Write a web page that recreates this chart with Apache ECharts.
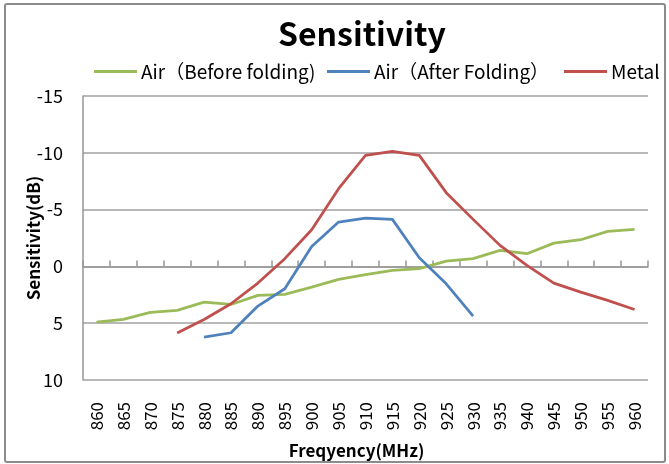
<!DOCTYPE html>
<html>
<head>
  <meta charset="UTF-8" />
  <title>Sensitivity</title>
  <style>
    body { margin: 0; background: #fff; }
    #chart { position: absolute; left: 0; top: 0; width: 669px; height: 464px; }
    #frame {
      position: absolute;
      left: 4px; top: 3px;
      width: 658px; height: 456px;
      border: 2px solid #8c8c8c;
      border-radius: 3px;
      pointer-events: none;
    }
  </style>
  <script src="https://cdn.jsdelivr.net/npm/echarts@6/dist/echarts.min.js"></script>
</head>
<body>
  <div id="chart"></div>
  <div id="frame"></div>

  <script>
    // frequencies (MHz)
    var freqs = ['860', '865', '870', '875', '880', '885', '890', '895', '900', '905', '910',
                 '915', '920', '925', '930', '935', '940', '945', '950', '955', '960'];

    // sensitivity (dB)
    var airBefore = [4.9, 4.67, 4.05, 3.87, 3.14, 3.35, 2.55, 2.46, 1.82, 1.14, 0.73,
                     0.35, 0.2, -0.47, -0.68, -1.41, -1.12, -2.05, -2.35, -3.08, -3.26];
    var airAfter = [null, null, null, null, 6.22, 5.84, 3.49, 1.97, -1.76, -3.9, -4.25,
                    -4.14, -0.76, 1.53, 4.37, null, null, null, null, null, null];
    var metal = [null, null, null, 5.87, 4.67, 3.29, 1.47, -0.68, -3.23, -6.84, -9.77,
                 -10.12, -9.77, -6.49, -4.14, -1.85, -0.09, 1.47, 2.26, 2.99, 3.79];

    var seriesNames = ['Air（Before folding)', 'Air（After Folding）', 'Metal'];
    var seriesColors = ['#9bbb59', '#4f81bd', '#c0504d'];

    var yTicks = { min: -15, max: 10, step: 5 };

    var font = '"Noto Sans CJK SC", "Noto Sans", sans-serif';

    var chart = echarts.init(document.getElementById('chart'));

    function line(name, data, color) {
      return {
        name: name,
        type: 'line',
        xAxisIndex: 0,
        data: data,
        symbol: 'none',
        connectNulls: false,
        lineStyle: { color: color, width: 2.75 },
        itemStyle: { color: color }
      };
    }

    // one legend per entry so each can sit where the original has it
    var legendLefts = [94, 327, 564];
    var legends = seriesNames.map(function (n, i) {
      return {
        top: 62,
        left: legendLefts[i],
        padding: 0,
        itemWidth: 43,
        itemHeight: 3,
        itemGap: 0,
        icon: 'rect',
        textStyle: { fontFamily: font, fontSize: 19, color: '#000', padding: [0, 0, 0, -1] },
        data: [n]
      };
    });

    var option = {
      animation: false,
      title: {
        text: 'Sensitivity',
        left: 273,
        top: 13,
        textStyle: { fontFamily: font, fontSize: 32, fontWeight: 'bold', color: '#000' }
      },
      legend: legends,
      grid: { left: 83, right: 21, top: 96, bottom: 84, outerBoundsMode: 'none', containLabel: false },
      xAxis: [{
        type: 'category',
        data: freqs,
        boundaryGap: true,
        position: 'bottom',
        axisLine: { show: false, onZero: false },
        axisTick: { show: false },
        axisLabel: { rotate: 90, margin: 22, fontFamily: font, fontSize: 17, color: '#000' },
        name: 'Freqyency(MHz)',
        nameLocation: 'middle',
        nameGap: 62,
        nameMoveOverlap: false,
        nameTextStyle: { fontFamily: font, fontSize: 17, fontWeight: 'bold', color: '#000', padding: [0, 18, 0, 0] }
      }, {
        type: 'category',
        data: freqs,
        boundaryGap: true,
        position: 'bottom',
        axisLine: { show: true, onZero: true, lineStyle: { color: '#969696', width: 1.5 } },
        axisTick: { show: true, inside: true, length: 6, lineStyle: { color: '#969696', width: 1.5 } },
        axisLabel: { show: false },
        splitLine: { show: false }
      }],
      yAxis: {
        type: 'value',
        inverse: true,
        min: yTicks.min,
        max: yTicks.max,
        interval: yTicks.step,
        axisLine: { show: true, onZero: false, lineStyle: { color: '#969696', width: 1.5 } },
        axisTick: { show: false },
        axisLabel: { margin: 20, fontFamily: font, fontSize: 18, color: '#000' },
        splitLine: { lineStyle: { color: '#a0a0a0', width: 1.5 } },
        name: 'Sensitivity(dB)',
        nameLocation: 'middle',
        nameGap: 41,
        nameMoveOverlap: false,
        nameTextStyle: { fontFamily: font, fontSize: 17, fontWeight: 'bold', color: '#000' }
      },
      series: seriesNames.map(function (n, i) {
        return line(n, [airBefore, airAfter, metal][i], seriesColors[i]);
      })
    };

    chart.setOption(option);
  </script>
</body>
</html>
